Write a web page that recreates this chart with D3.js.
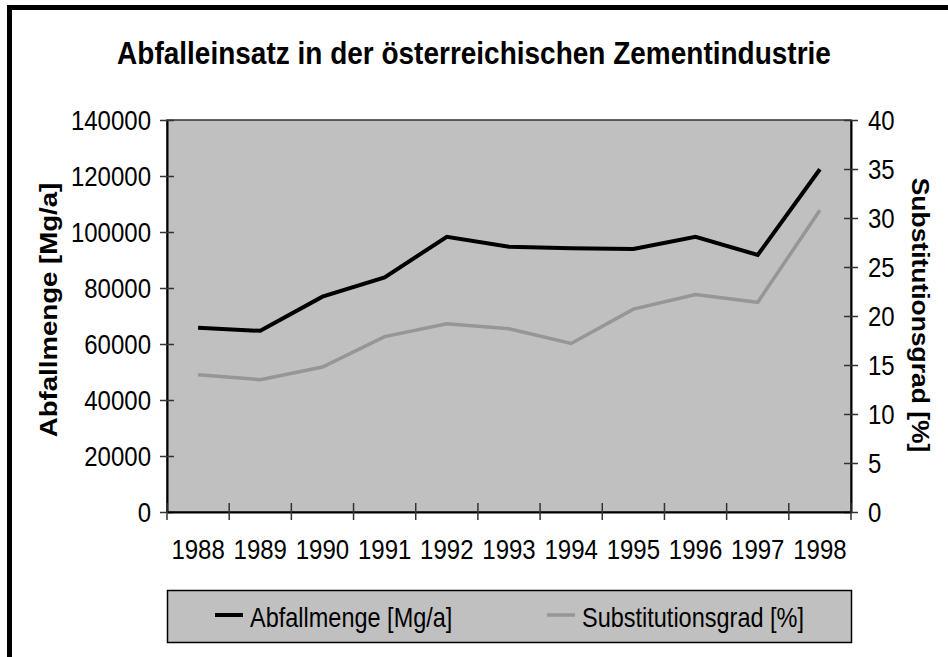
<!DOCTYPE html>
<html>
<head>
<meta charset="utf-8">
<script src="https://cdn.jsdelivr.net/npm/d3@7"></script>
<style>
  body { margin: 0; background: #fff; }
  text { font-family: "Liberation Sans", Arial, sans-serif; fill: #000; }
</style>
</head>
<body>
<svg id="chart" width="948" height="657"></svg>
<script>
// data
var years = ["1988","1989","1990","1991","1992","1993","1994","1995","1996","1997","1998"];
var abfallmenge = [65800, 64700, 76900, 83800, 98300, 94700, 94200, 93900, 98300, 91800, 122400];
var substitution = [14.0, 13.5, 14.8, 17.9, 19.2, 18.7, 17.2, 20.7, 22.2, 21.4, 30.8];
var leftTicks = [0, 20000, 40000, 60000, 80000, 100000, 120000, 140000];
var rightTicks = [0, 5, 10, 15, 20, 25, 30, 35, 40];
var seriesNames = ["Abfallmenge [Mg/a]", "Substitutionsgrad [%]"];
var seriesColors = ["#000000", "#969696"];

// the original picture is squeezed sideways, so text gets stretched upwards a bit
var stretch = 1.15;

var svg = d3.select("#chart");

// outer frame (runs past the right/bottom edge of the picture)
svg.append("rect")
  .attr("x", 9.5).attr("y", 7.5)
  .attr("width", 1200).attr("height", 1200)
  .attr("fill", "#fff")
  .attr("stroke", "#000")
  .attr("stroke-width", 5);

var m = {left: 167, top: 120, right: 851, bottom: 512};

var x = d3.scaleBand().domain(years).range([m.left, m.right]);
var yL = d3.scaleLinear().domain([0, 140000]).range([m.bottom, m.top]);
var yR = d3.scaleLinear().domain([0, 40]).range([m.bottom, m.top]);

function placeText(sel, px, py, rot) {
  return sel.attr("transform", "translate(" + px + "," + py + ") scale(1," + stretch + ")" + (rot ? " rotate(" + rot + ")" : ""));
}

// plot area
svg.append("rect")
  .attr("x", m.left).attr("y", m.top)
  .attr("width", m.right - m.left).attr("height", m.bottom - m.top)
  .attr("fill", "#c0c0c0")
  .attr("stroke", "#333").attr("stroke-width", 1.5);

// title
placeText(svg.append("text"), 474, 64)
  .attr("text-anchor", "middle")
  .style("font-size", "28px").style("font-weight", "bold")
  .text("Abfalleinsatz in der österreichischen Zementindustrie");

// ==================== Axes ====================
var leftAxis = d3.axisLeft(yL).tickValues(leftTicks).tickFormat(d3.format("d"))
  .tickSizeInner(7).tickSizeOuter(0).tickPadding(9);
var gL = svg.append("g").attr("transform", "translate(" + m.left + ",0)").call(leftAxis);

var rightAxis = d3.axisRight(yR).tickValues(rightTicks)
  .tickSizeInner(7).tickSizeOuter(0).tickPadding(10);
var gR = svg.append("g").attr("transform", "translate(" + m.right + ",0)").call(rightAxis);

var bottomAxis = d3.axisBottom(x).tickSize(0).tickPadding(0);
var gB = svg.append("g").attr("transform", "translate(0," + m.bottom + ")").call(bottomAxis);

[gL, gR, gB].forEach(function(g){
  g.select(".domain").attr("stroke", "#000").attr("stroke-width", 2);
  g.selectAll(".tick line").attr("stroke", "#333").attr("stroke-width", 1.5);
  g.selectAll(".tick text")
    .attr("fill", "#000")
    .attr("transform", "scale(1," + stretch + ")")
    .style("font-size", "24px")
    .style("font-family", "'Liberation Sans', Arial, sans-serif");
});
// left/right ticks cross the axis line
gL.selectAll(".tick line").attr("x1", 7).attr("x2", -7);
gR.selectAll(".tick line").attr("x1", -7).attr("x2", 7);
gL.selectAll(".tick text").attr("dy", "0.33em");
gR.selectAll(".tick text").attr("dy", "0.33em");
gB.selectAll(".tick text").attr("dy", "0").attr("y", 47 / stretch);

// category boundary ticks on the x axis
var bounds = years.map(function(d){ return x(d); }).concat([m.right]);
svg.selectAll(".xtick")
  .data(bounds)
  .enter().append("line")
    .attr("class", "xtick")
    .attr("x1", function(d){ return d; }).attr("x2", function(d){ return d; })
    .attr("y1", m.bottom - 9).attr("y2", m.bottom + 8)
    .attr("stroke", "#333").attr("stroke-width", 1.5);

// axis titles
placeText(svg.append("text"), 49, 310, -90)
  .attr("text-anchor", "middle").attr("dy", "0.35em")
  .style("font-size", "24px").style("font-weight", "bold")
  .text(seriesNames[0]);

placeText(svg.append("text"), 920, 315, 90)
  .attr("text-anchor", "middle").attr("dy", "0.35em")
  .style("font-size", "23px").style("font-weight", "bold")
  .text(seriesNames[1]);

// ==================== Lines ====================
var cx = function(d, i){ return x(years[i]) + x.bandwidth() / 2; };

svg.append("path")
  .datum(substitution)
  .attr("fill", "none")
  .attr("stroke", seriesColors[1])
  .attr("stroke-width", 3.5)
  .attr("stroke-linejoin", "miter")
  .attr("d", d3.line().x(cx).y(function(d){ return yR(d); }));

svg.append("path")
  .datum(abfallmenge)
  .attr("fill", "none")
  .attr("stroke", seriesColors[0])
  .attr("stroke-width", 4)
  .attr("stroke-linejoin", "miter")
  .attr("d", d3.line().x(cx).y(function(d){ return yL(d); }));

// ==================== Legend ====================
var legend = svg.append("g");
legend.append("rect")
  .attr("x", 167.5).attr("y", 590.5)
  .attr("width", 684).attr("height", 52)
  .attr("fill", "#c0c0c0")
  .attr("stroke", "#000").attr("stroke-width", 1.5);

var legendX = [215, 547];
var items = legend.selectAll(".item")
  .data(seriesNames)
  .enter().append("g")
    .attr("class", "item")
    .attr("transform", function(d, i){ return "translate(" + legendX[i] + ",0)"; });

items.append("line")
  .attr("x1", 0).attr("x2", 28).attr("y1", 615).attr("y2", 615)
  .attr("stroke", function(d, i){ return seriesColors[i]; })
  .attr("stroke-width", function(d, i){ return i === 0 ? 4 : 3.5; });

items.append("text")
  .each(function(){ placeText(d3.select(this), 35, 627); })
  .style("font-size", "23.5px")
  .text(function(d){ return d; });
</script>
</body>
</html>
